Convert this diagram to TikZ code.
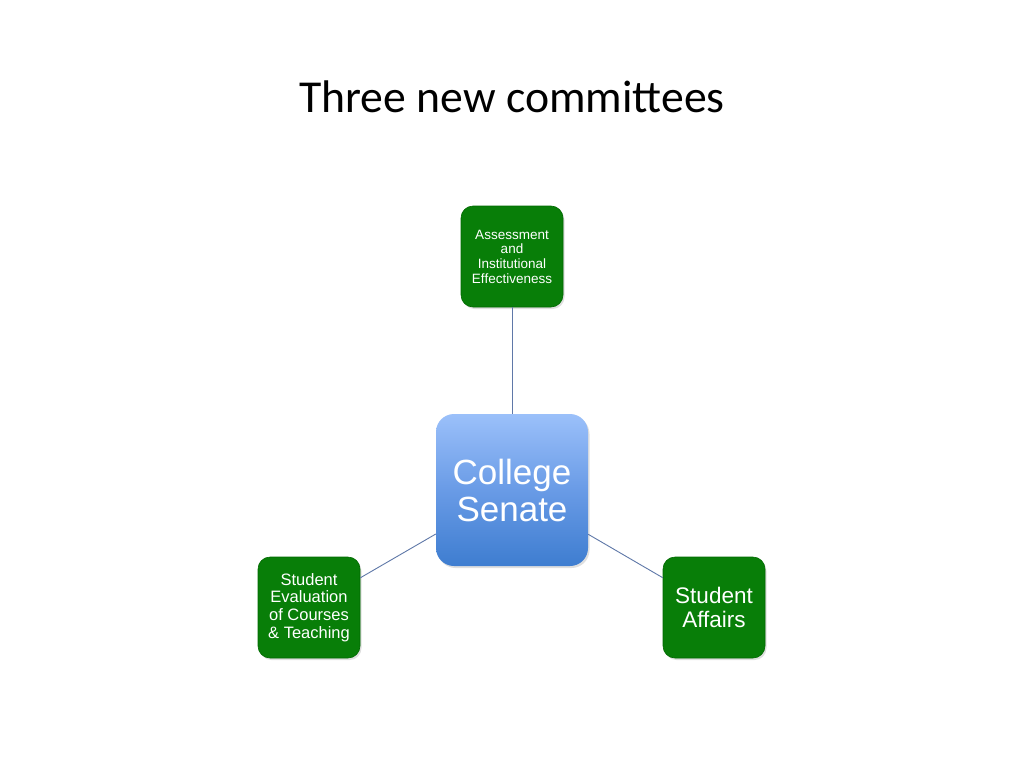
\documentclass[tikz,border=0pt]{standalone}
\usepackage{fontspec}
\setmainfont{Liberation Sans}
\newfontfamily\titlefont{Carlito}
\usetikzlibrary{shadows}
\definecolor{boxgreen}{RGB}{8,126,8}
\definecolor{boxgreenedge}{RGB}{0,105,0}
\definecolor{linkblue}{RGB}{95,120,168}
\definecolor{senatetop}{RGB}{155,192,250}
\definecolor{senatemid}{RGB}{105,155,230}
\definecolor{senatebot}{RGB}{62,125,208}
\tikzset{
  greenbox/.style={rounded corners=12pt, fill=boxgreen, draw=boxgreenedge, line width=0.6pt,
    minimum width=102pt, minimum height=101pt, inner sep=0pt, align=center, text=white,
    drop shadow={shadow xshift=1.5pt, shadow yshift=-2pt, opacity=0.25}},
  senatebox/.style={rounded corners=18pt, top color=senatetop, bottom color=senatebot, middle color=senatemid,
    draw=none, minimum width=152pt, minimum height=152pt, inner sep=0pt, align=center, text=white,
    drop shadow={shadow xshift=1.5pt, shadow yshift=-2pt, opacity=0.25}},
  link/.style={draw=linkblue, line width=0.9pt}
}
\begin{document}
\begin{tikzpicture}[x=1pt,y=-1pt]
\useasboundingbox (0,0) rectangle (1024,768);
\fill[white] (0,0) rectangle (1024,768);
\node[font=\titlefont\fontsize{45.7}{50}\selectfont] (title) at (512,97) {Three new committees};
\node[senatebox, font=\fontsize{35}{37}\selectfont] (senate) at (512,490) {College\\Senate};
\node[greenbox, font=\fontsize{13.5}{14.7}\selectfont] (top) at (512,256.5) {Assessment\\and\\Institutional\\Effectiveness};
\node[greenbox, font=\fontsize{16.5}{17.7}\selectfont] (left) at (309,607.5) {Student\\Evaluation\\of Courses\\\& Teaching};
\node[greenbox, font=\fontsize{22.5}{24}\selectfont] (right) at (714,607.5) {Student\\Affairs};
\draw[link] (top) -- (senate);
\draw[link] (left) -- (senate);
\draw[link] (right) -- (senate);
\end{tikzpicture}
\end{document}
